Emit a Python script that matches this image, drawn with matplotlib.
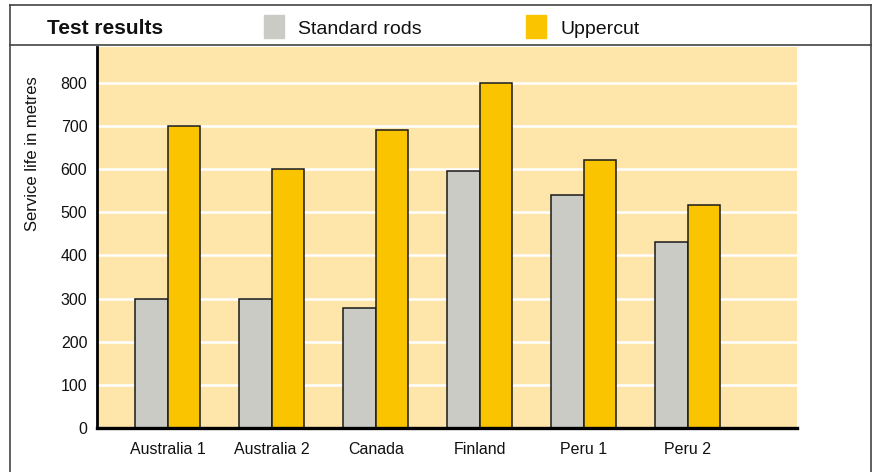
import matplotlib.pyplot as plt
from matplotlib.patches import Rectangle
from matplotlib.lines import Line2D
import numpy as np

sites = ['Australia 1', 'Australia 2', 'Canada', 'Finland', 'Peru 1', 'Peru 2']
standard_rods = [300, 300, 278, 595, 540, 430]
uppercut = [700, 600, 690, 800, 620, 517]
yticks = [0, 100, 200, 300, 400, 500, 600, 700, 800]

W, H = 875, 472
bg = '#FEE6AB'
grey = '#C9CBC4'
yellow = '#FBC400'
sans = ['Liberation Sans', 'DejaVu Sans']

fig = plt.figure(figsize=(W / 100, H / 100), dpi=100)

def fx(px):
    return px / W

def fy(py):
    return 1 - py / H

ax = fig.add_axes([fx(97), fy(428), fx(797) - fx(97), fy(47) - fy(428)])
ax.set_facecolor(bg)

x = np.arange(len(sites))
width = 0.312
ax.bar(x - width / 2, standard_rods, width, color=grey, edgecolor='#1a1a1a',
       linewidth=1.1, zorder=3)
ax.bar(x + width / 2, uppercut, width, color=yellow, edgecolor='#1a1a1a',
       linewidth=1.1, zorder=3)

ax.set_xlim(-0.68, 6.05)
ax.set_ylim(0, 883)
ax.set_yticks(yticks)
ax.set_xticks(x)
ax.set_xticklabels(sites, family=sans, fontsize=11.5, color='#111')
for lbl in ax.get_yticklabels():
    lbl.set_family(sans)
ax.tick_params(axis='y', length=0, pad=7, labelsize=11.5, labelcolor='#111')
ax.tick_params(axis='x', length=0, pad=10)

for v in yticks[1:]:
    ax.axhline(v, color='white', linewidth=1.8, zorder=1)

for s in ['top', 'right']:
    ax.spines[s].set_visible(False)
ax.spines['left'].set_linewidth(2.0)
ax.spines['bottom'].set_linewidth(2.4)
ax.spines['left'].set_zorder(4)
ax.spines['bottom'].set_zorder(4)

fig.text(fx(33), fy(154), 'Service life in metres', rotation=90, ha='center',
         va='center', fontsize=12, family=sans, color='#111')

# header
fig.text(fx(47), fy(27), 'Test results', ha='left', va='center_baseline',
         fontsize=15, fontweight='bold', family=sans, color='#111')
fig.patches.append(Rectangle((fx(264), fy(38)), fx(20), fy(15) - fy(38),
                             transform=fig.transFigure, color=grey))
fig.text(fx(298), fy(28), 'Standard rods', ha='left', va='center_baseline',
         fontsize=14, family=sans, color='#111')
fig.patches.append(Rectangle((fx(526), fy(38)), fx(20), fy(15) - fy(38),
                             transform=fig.transFigure, color=yellow))
fig.text(fx(560), fy(28), 'Uppercut', ha='left', va='center_baseline',
         fontsize=14, family=sans, color='#111')

# frame
frame = dict(transform=fig.transFigure, color='#444', linewidth=1.2)
fig.lines.append(Line2D([fx(10), fx(871)], [fy(5), fy(5)], **frame))
fig.lines.append(Line2D([fx(10), fx(871)], [fy(45), fy(45)], **frame))
fig.lines.append(Line2D([fx(10), fx(10)], [fy(5), 0], **frame))
fig.lines.append(Line2D([fx(871), fx(871)], [fy(5), 0], **frame))

fig.savefig('out.png', dpi=100)
